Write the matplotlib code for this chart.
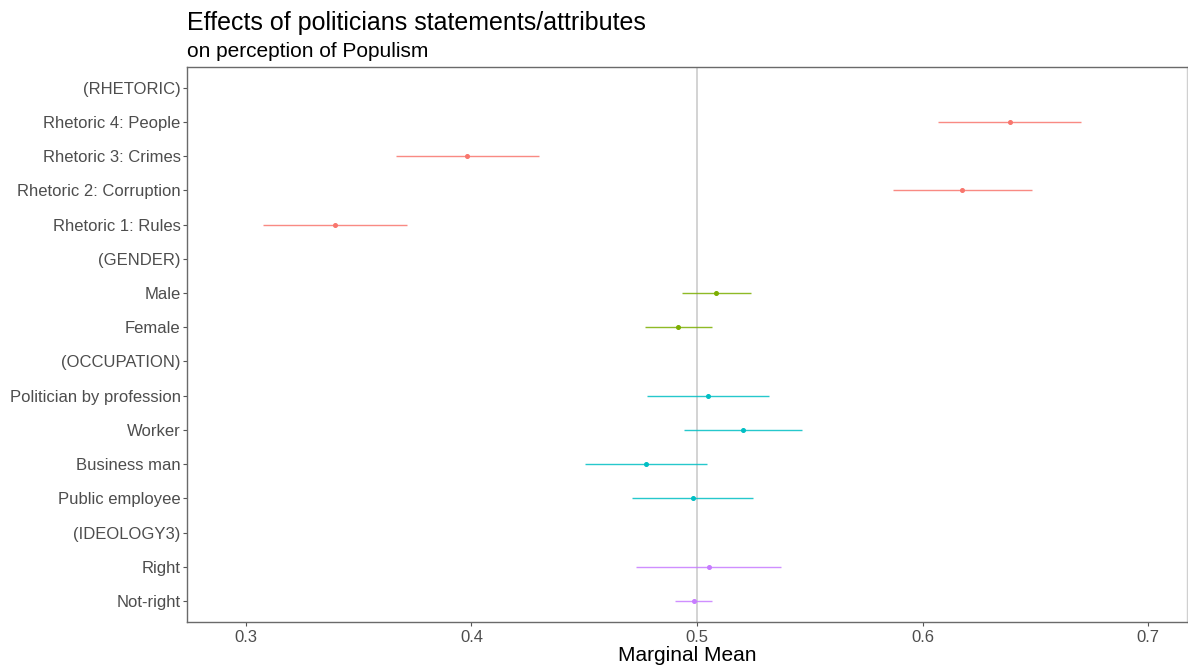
import numpy as np
import matplotlib.pyplot as plt

plt.rcParams['font.family'] = ['Liberation Sans', 'DejaVu Sans']

# rows from top to bottom
labels = ["(RHETORIC)", "Rhetoric 4: People", "Rhetoric 3: Crimes", "Rhetoric 2: Corruption",
          "Rhetoric 1: Rules", "(GENDER)", "Male", "Female", "(OCCUPATION)",
          "Politician by profession", "Worker", "Business man", "Public employee",
          "(IDEOLOGY3)", "Right", "Not-right"]
group = ["RHETORIC", "RHETORIC", "RHETORIC", "RHETORIC", "RHETORIC",
         "GENDER", "GENDER", "GENDER",
         "OCCUPATION", "OCCUPATION", "OCCUPATION", "OCCUPATION", "OCCUPATION",
         "IDEOLOGY3", "IDEOLOGY3", "IDEOLOGY3"]
estimate = [np.nan, 0.6385, 0.398, 0.6176, 0.3397, np.nan, 0.5085, 0.4917, np.nan,
            0.5047, 0.5202, 0.4772, 0.4981, np.nan, 0.5052, 0.4985]
lower = [np.nan, 0.6068, 0.3667, 0.5870, 0.3075, np.nan, 0.4934, 0.4770, np.nan,
         0.4779, 0.4941, 0.4501, 0.4711, np.nan, 0.4731, 0.4904]
upper = [np.nan, 0.6701, 0.4298, 0.6483, 0.3715, np.nan, 0.5237, 0.5068, np.nan,
         0.5318, 0.5464, 0.5045, 0.5250, np.nan, 0.5370, 0.5068]
colors = {"RHETORIC": "#F8766D", "GENDER": "#7CAE00",
          "OCCUPATION": "#00BFC4", "IDEOLOGY3": "#C77CFF"}

fig = plt.figure(figsize=(11.88, 6.68), dpi=100)
ax = fig.add_axes([0.1578, 0.0696, 0.8414, 0.8297])

n = len(labels)
y = np.arange(n, 0, -1)

ax.axvline(0.5, color="#c8c8c8", lw=1.1, zorder=1)
for yi, g, est, lo, hi in zip(y, group, estimate, lower, upper):
    if np.isnan(est):
        continue
    c = colors[g]
    ax.hlines(yi, lo, hi, color=c, lw=1.0, alpha=0.85, zorder=2)
    ax.plot(est, yi, "o", color=c, ms=2.6, zorder=3)

ax.set_xlim(0.2741, 0.7172)
ax.set_ylim(0.4, n + 0.6)
ax.set_xticks([0.3, 0.4, 0.5, 0.6, 0.7])
ax.set_xticklabels(["0.3", "0.4", "0.5", "0.6", "0.7"])
ax.set_yticks(y)
ax.set_yticklabels(labels)
ax.tick_params(axis="both", length=3, width=0.8, color="#555555",
               labelcolor="#4D4D4D", labelsize=12, pad=2)
ax.tick_params(axis="x", pad=3)
for s in ax.spines.values():
    s.set_color("#6a6a6a")
    s.set_linewidth(1.0)
ax.spines["right"].set_color("#d0d0d0")

ax.set_xlabel("Marginal Mean", fontsize=15, color="black", labelpad=1)

fig.text(0.1574, 0.965, "Effects of politicians statements/attributes",
         fontsize=18, ha="left", va="center")
fig.text(0.1574, 0.923, "on perception of Populism",
         fontsize=15, ha="left", va="center")

fig.savefig("out.png", dpi=100)
